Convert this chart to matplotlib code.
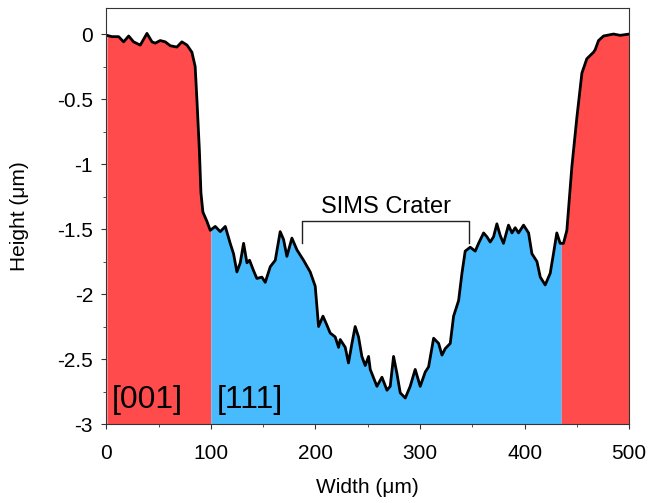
import numpy as np
import matplotlib.pyplot as plt
from matplotlib.ticker import MultipleLocator

plt.rcParams['font.family'] = ['Liberation Sans', 'DejaVu Sans']

# surface profile (width in um, height in um)
width = [0.6, 5.4, 11.8, 16.6, 21.4, 26.1, 32.5, 38.9, 43.7, 46.8, 51.6, 56.4,
         61.2, 67.5, 72.3, 77.2, 81.9, 85.0, 86.7, 89.0, 90.5, 92.4, 96.2, 99.4,
         104.2, 109.0, 113.8, 118.5, 121.7, 124.9, 128.1, 131.3, 134.5, 137.0,
         140.8, 144.0, 148.8, 152.0, 156.8, 161.6, 166.3, 169.5, 172.7, 177.5,
         182.3, 188.6, 195.0, 199.8, 203.0, 207.2, 211.0, 214.1, 218.9, 222.1,
         223.7, 228.5, 231.6, 234.9, 238.0, 241.2, 244.4, 247.6, 250.8, 252.4,
         258.8, 263.6, 268.4, 271.5, 274.7, 277.9, 281.1, 285.9, 290.6, 295.4,
         300.2, 305.0, 308.2, 313.0, 317.8, 321.0, 324.1, 328.9, 332.1, 336.9,
         340.1, 343.2, 348.0, 352.8, 356.0, 360.8, 364.0, 367.1, 370.3, 373.5,
         376.7, 379.8, 384.6, 387.9, 391.0, 394.2, 399.0, 403.8, 407.0, 411.8,
         415.0, 419.7, 424.5, 427.6, 430.8, 434.0, 437.2, 440.4, 445.2, 450.0,
         454.8, 459.5, 465.9, 467.5, 470.7, 475.5, 485.0, 491.4, 500.0]
height = [-0.01, -0.02, -0.02, -0.06, -0.015, -0.06, -0.085, 0.005, -0.06, -0.07,
          -0.05, -0.06, -0.09, -0.10, -0.06, -0.085, -0.14, -0.25, -0.51, -0.89,
          -1.22, -1.37, -1.44, -1.51, -1.48, -1.52, -1.48, -1.61, -1.69, -1.83,
          -1.76, -1.61, -1.76, -1.74, -1.82, -1.88, -1.87, -1.91, -1.79, -1.74,
          -1.52, -1.58, -1.71, -1.57, -1.66, -1.74, -1.83, -1.94, -2.25, -2.17,
          -2.24, -2.30, -2.33, -2.41, -2.35, -2.41, -2.53, -2.38, -2.25, -2.33,
          -2.48, -2.55, -2.48, -2.58, -2.71, -2.64, -2.74, -2.71, -2.48, -2.61,
          -2.76, -2.80, -2.71, -2.58, -2.71, -2.60, -2.56, -2.34, -2.38, -2.47,
          -2.42, -2.38, -2.17, -2.05, -1.84, -1.67, -1.64, -1.67, -1.61, -1.53,
          -1.56, -1.60, -1.56, -1.46, -1.55, -1.61, -1.47, -1.53, -1.49, -1.53,
          -1.47, -1.53, -1.69, -1.75, -1.87, -1.93, -1.84, -1.69, -1.53, -1.61,
          -1.61, -1.51, -1.02, -0.64, -0.30, -0.19, -0.14, -0.12, -0.05, -0.015,
          0.0, -0.01, 0.0]

# grain boundaries between [001] and [111] regions
bounds = [100, 435]
grain_labels = ['[001]', '[111]']
crater = [187, 347]

red = '#FF4B4B'
blue = '#48BBFF'

x = np.array(width)
y = np.array(height)
xs = np.sort(np.concatenate([x, bounds]))
ys = np.interp(xs, x, y)

fig = plt.figure(figsize=(6.52, 5.03), dpi=100)
ax = fig.add_axes([0.163, 0.157, 0.802, 0.827])

left = xs <= bounds[0]
mid = (xs >= bounds[0]) & (xs <= bounds[1])
right = xs >= bounds[1]
ax.fill_between(xs[left], ys[left], -3, color=red, lw=0)
ax.fill_between(xs[mid], ys[mid], -3, color=blue, lw=0)
ax.fill_between(xs[right], ys[right], -3, color=red, lw=0)
ax.plot(x, y, color='black', lw=2.0, solid_joinstyle='round')

# SIMS crater bracket
ax.plot([crater[0], crater[0], crater[1], crater[1]], [-1.61, -1.44, -1.44, -1.61],
        color='#222222', lw=1.0)
ax.text(sum(crater) / 2, -1.375, 'SIMS Crater', ha='center', va='baseline', fontsize=17)

ax.text(5, -2.88, grain_labels[0], fontsize=23, ha='left', va='baseline')
ax.text(106, -2.88, grain_labels[1], fontsize=23, ha='left', va='baseline')

ax.set_xlim(0, 500)
ax.set_ylim(-3, 0.2)
ax.xaxis.set_major_locator(MultipleLocator(100))
ax.xaxis.set_minor_locator(MultipleLocator(50))
ax.set_yticks([0, -0.5, -1, -1.5, -2, -2.5, -3])
ax.set_yticklabels(['0', '-0.5', '-1', '-1.5', '-2', '-2.5', '-3'])
ax.yaxis.set_minor_locator(MultipleLocator(0.25))
ax.tick_params(which='both', direction='out', labelsize=15, color='#333333')
ax.tick_params(which='major', length=3.5)
ax.tick_params(which='minor', length=2.5)
ax.tick_params(axis='x', which='major', pad=11)
ax.tick_params(axis='y', which='major', pad=6)
for s in ax.spines.values():
    s.set_color('#333333')
ax.set_xlabel('Width (μm)', fontsize=15)
ax.set_ylabel('Height (μm)', fontsize=15)
ax.xaxis.set_label_coords(0.5, -0.13)
ax.yaxis.set_label_coords(-0.147, 0.5)

fig.savefig('out.png', dpi=100)
